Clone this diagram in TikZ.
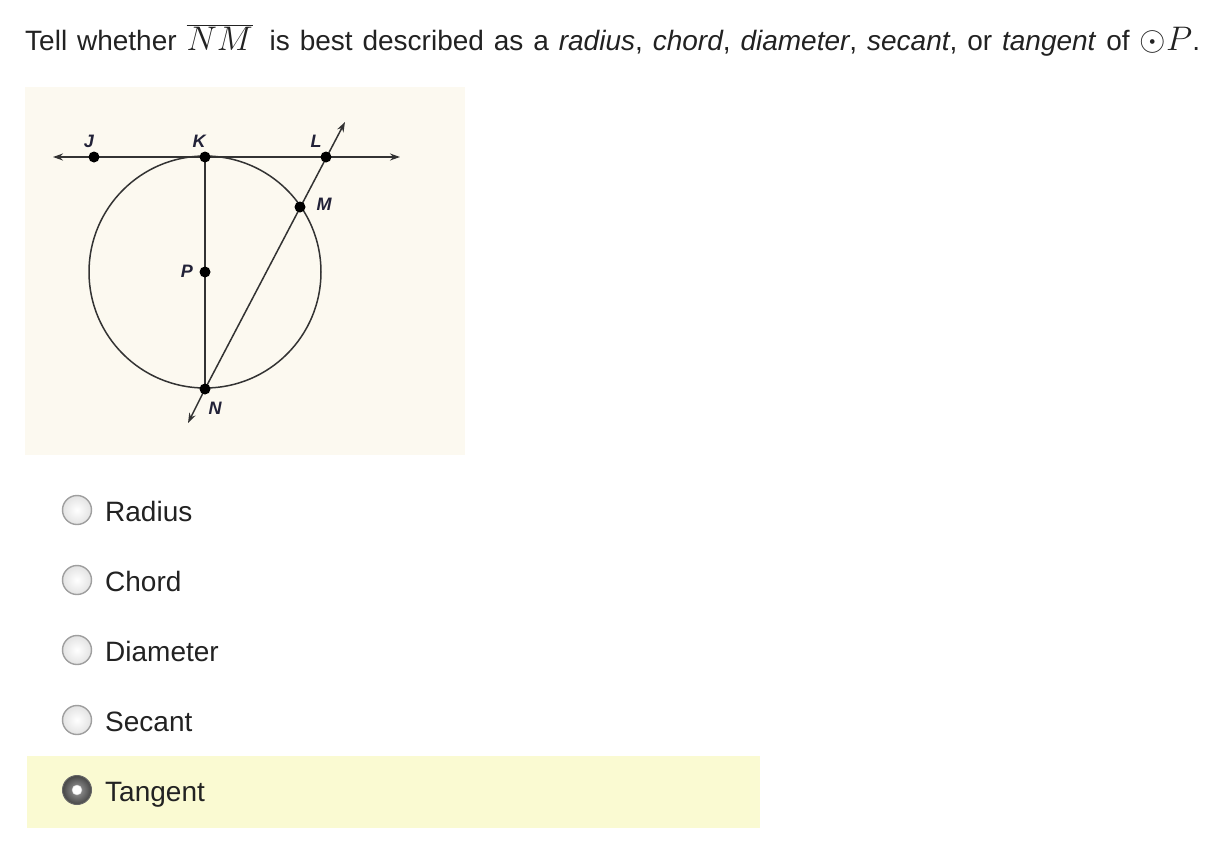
\documentclass[tikz,border=0pt]{standalone}
\usepackage{graphicx}
\usepackage{fontspec}
\setmainfont{Liberation Sans}
\usetikzlibrary{arrows.meta}
\definecolor{panel}{HTML}{FCF9F0}
\definecolor{hilite}{HTML}{FAFAD2}
\definecolor{ink}{HTML}{222222}
\definecolor{geoink}{HTML}{333333}
\definecolor{lab}{HTML}{222238}
\tikzset{
  geo/.style={draw=geoink, line width=1.5pt},
  arr/.style={geo, -{Stealth[length=10pt,width=7pt]}},
  dot/.style={circle, fill=black, inner sep=0pt, minimum size=11pt},
  ptlabel/.style={font=\fontsize{18}{18}\selectfont\bfseries\itshape, text=lab, inner sep=0pt},
  radio/.style={circle, draw=gray!75, line width=1.4pt, inner color=white, outer color=gray!22, minimum size=29pt, inner sep=0pt},
  radiosel/.style={circle, draw=gray!80!black, line width=1pt, inner color=gray!75, outer color=gray!55!black, minimum size=29pt, inner sep=0pt},
  choice/.style={anchor=base west, font=\fontsize{28}{28}\selectfont, text=ink, inner sep=0pt},
}
\newcommand{\bigmath}[1]{\scalebox{1.37}{\fontsize{24.88}{26}\selectfont$#1$}}
\begin{document}
\begin{tikzpicture}[x=1pt,y=-1pt]
\useasboundingbox[fill=white] (0,0) rectangle (1211,841);
% title
\node[anchor=base west, inner sep=0pt, font=\fontsize{28}{30}\selectfont, text=ink] (title) at (25,50)
  {\spaceskip=9.9pt\relax Tell whether \bigmath{\overline{NM}}\hspace{7pt} is best described as a \textit{radius}, \textit{chord}, \textit{diameter}, \textit{secant}, or \textit{tangent} of \bigmath{\odot P}.};
% figure panel
\fill[panel] (25,87) rectangle (465,455);
\coordinate (P) at (205,272);
\coordinate (K) at (205,157);
\coordinate (N) at (205,389);
\coordinate (J) at (94,157);
\coordinate (L) at (326,157);
\coordinate (M) at (300,207);
\coordinate (Wend) at (53,157);
\coordinate (Eend) at (400,157);
\coordinate (Uend) at (345,122);
\coordinate (Dend) at (188,423);
\draw[geo] (P) circle[radius=116];
\draw[geo] (K) -- (N);
\draw[arr] (K) -- (Wend);
\draw[arr] (K) -- (Eend);
\draw[arr] (N) -- (Uend);
\draw[arr] (N) -- (Dend);
\foreach \p in {J,K,L,M,P,N} \node[dot] (d\p) at (\p) {};
\node[ptlabel] (lJ) at (89,141) {J};
\node[ptlabel] (lK) at (199,141) {K};
\node[ptlabel] (lL) at (316,141) {L};
\node[ptlabel] (lM) at (324,204) {M};
\node[ptlabel] (lP) at (187,271) {P};
\node[ptlabel] (lN) at (215,408) {N};
% choices
\fill[hilite] (27,756) rectangle (760,828);
\node[radio] (r1) at (77,510) {};
\node[radio] (r2) at (77,580) {};
\node[radio] (r3) at (77,650) {};
\node[radio] (r4) at (77,720) {};
\node[radiosel] (r5) at (77,790) {};
\node[circle, fill=white, draw=gray!40, inner sep=0pt, minimum size=10pt] (r5in) at (r5) {};
\node[choice] (c1) at (105,521) {Radius};
\node[choice] (c2) at (105,591) {Chord};
\node[choice] (c3) at (105,661) {Diameter};
\node[choice] (c4) at (105,731) {Secant};
\node[choice] (c5) at (105,801) {Tangent};
\end{tikzpicture}
\end{document}
